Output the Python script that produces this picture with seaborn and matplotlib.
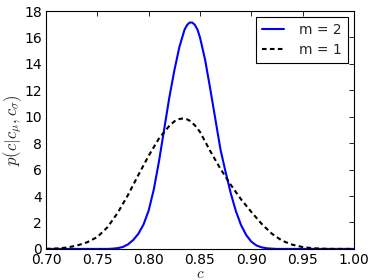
import matplotlib
matplotlib.use("Agg")
import matplotlib.pyplot as plt
import seaborn as sns
import pandas as pd
import numpy as np

# m = 2 (solid blue)
c_m2 = [0.70, 0.75, 0.76, 0.765, 0.77, 0.775, 0.78, 0.785, 0.79, 0.795, 0.80, 0.805,
        0.81, 0.815, 0.82, 0.825, 0.83, 0.835, 0.8375, 0.84, 0.8425, 0.845, 0.8475,
        0.85, 0.855, 0.86, 0.865, 0.87, 0.875, 0.88, 0.885, 0.89, 0.895, 0.90, 0.905,
        0.91, 0.915, 0.92, 0.925, 1.00]
p_m2 = [0.0, 0.0, 0.0, 0.02, 0.06, 0.15, 0.35, 0.68, 1.15, 1.85, 2.9, 4.5,
        6.6, 9.0, 11.4, 13.5, 15.3, 16.6, 16.95, 17.13, 17.12, 16.95, 16.6,
        16.0, 14.3, 12.1, 9.8, 7.5, 5.8, 4.2, 2.85, 1.8, 1.05, 0.55, 0.26,
        0.12, 0.05, 0.02, 0.0, 0.0]

# m = 1 (dashed black)
c_m1 = [0.70, 0.71, 0.72, 0.73, 0.74, 0.75, 0.76, 0.77, 0.78, 0.79, 0.80, 0.81,
        0.82, 0.825, 0.8275, 0.83, 0.8325, 0.835, 0.8375, 0.84, 0.845, 0.85, 0.86,
        0.87, 0.88, 0.89, 0.90, 0.91, 0.92, 0.93, 0.94, 0.95, 0.96, 0.97, 0.98, 1.00]
p_m1 = [0.0, 0.03, 0.1, 0.25, 0.5, 0.9, 1.65, 2.75, 4.1, 5.6, 7.05, 8.35,
        9.3, 9.65, 9.76, 9.83, 9.86, 9.85, 9.8, 9.7, 9.35, 8.85, 7.4,
        6.05, 4.85, 3.75, 2.8, 1.9, 1.15, 0.62, 0.32, 0.14, 0.05, 0.015, 0.0, 0.0]

labels = ["m = 2", "m = 1"]
x_ticks = [0.70, 0.75, 0.80, 0.85, 0.90, 0.95, 1.00]
y_ticks = [0, 2, 4, 6, 8, 10, 12, 14, 16, 18]

df = pd.concat([
    pd.DataFrame({"c": c_m2, "p": p_m2, "m": labels[0]}),
    pd.DataFrame({"c": c_m1, "p": p_m1, "m": labels[1]}),
])

sns.set_style("white")
plt.rcParams["font.family"] = ["DejaVu Sans"]
plt.rcParams["mathtext.fontset"] = "cm"

fig = plt.figure(figsize=(3.74, 2.8), dpi=100)
ax = fig.add_axes([0.123, 0.111, 0.8235, 0.8497])

sns.lineplot(data=df, x="c", y="p", hue="m", style="m",
             palette={labels[0]: "#0000ff", labels[1]: "black"},
             dashes={labels[0]: "", labels[1]: (2.2, 1.6)},
             linewidth=1.5, ax=ax, sort=False)

ax.set_xlim(0.70, 1.00)
ax.set_ylim(0, 18)
ax.set_xticks(x_ticks)
ax.set_xticklabels([f"{t:.2f}" for t in x_ticks])
ax.set_yticks(y_ticks)
ax.set_yticklabels([str(t) for t in y_ticks])
ax.tick_params(direction="in", length=3.5, width=0.6, top=True, right=True,
               labelsize=10, pad=3, colors="black")
for s in ax.spines.values():
    s.set_visible(True)
    s.set_color("black")
    s.set_linewidth(0.8)

ax.set_xlabel("$c$", fontsize=11, labelpad=-1)
ax.set_ylabel(r"$p(c|c_\mu,c_\sigma)$", fontsize=12, labelpad=0)

leg = ax.legend(loc="upper right", fontsize=10, frameon=True, fancybox=False,
                edgecolor="black", borderaxespad=0.45, handlelength=1.6,
                handletextpad=1.1, borderpad=0.4, labelspacing=0.45)
leg.get_frame().set_linewidth(0.8)
leg.get_frame().set_alpha(1)

fig.savefig("out.png", dpi=100)
